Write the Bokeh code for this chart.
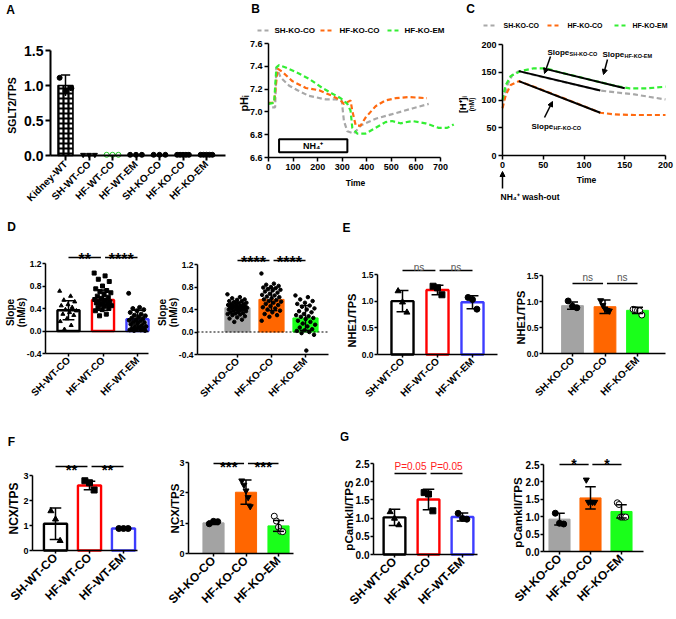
import numpy as np
from math import pi
from bokeh.plotting import figure
from bokeh.layouts import row, column
from bokeh.models import Label, FixedTicker, Arrow, NormalHead, NumeralTickFormatter
from bokeh.core.properties import value
from bokeh.embed import file_html
from bokeh.resources import INLINE

FONT = "Liberation Sans"

# ============================ DATA ============================
# Panel A
a_groups = ["Kidney-WT", "SH-WT-CO", "HF-WT-CO", "HF-WT-EM", "SH-KO-CO", "HF-KO-CO", "HF-KO-EM"]
a_means = [1.00, 0.005, 0.005, 0.005, 0.005, 0.005, 0.005]
a_sd = [0.15, 0.0, 0.0, 0.0, 0.0, 0.0, 0.0]
a_points = [[1.11, 0.92, 0.96],
            [0.01, 0.01, 0.01],
            [0.01, 0.01, 0.01],
            [0.01, 0.01, 0.01],
            [0.01, 0.01, 0.01],
            [0.01, 0.01, 0.01, 0.01, 0.01],
            [0.01, 0.01, 0.01, 0.01, 0.01]]
a_yticks = [0.0, 0.5, 1.0, 1.5]

# Panel B : pHi traces
series_names = ["SH-KO-CO", "HF-KO-CO", "HF-KO-EM"]
b_sh_t = [15, 27, 32, 50, 84, 118, 165, 233, 273, 298, 307, 321, 348, 375, 436, 503, 585, 652]
b_sh_ph = [7.04, 7.04, 7.39, 7.30, 7.23, 7.19, 7.14, 7.11, 7.11, 7.10, 6.92, 6.83, 6.81, 6.88, 6.94, 6.98, 7.03, 7.07]
b_co_t = [0, 23, 37, 57, 97, 152, 206, 260, 294, 307, 334, 341, 355, 375, 395, 436, 476, 517, 571, 645]
b_co_ph = [7.08, 7.08, 7.38, 7.35, 7.27, 7.21, 7.19, 7.14, 7.10, 7.07, 7.10, 7.01, 6.88, 6.88, 6.95, 7.05, 7.10, 7.12, 7.13, 7.12]
b_em_t = [0, 23, 32, 43, 70, 111, 165, 219, 260, 294, 321, 334, 341, 361, 395, 436, 476, 503, 537, 585, 639, 693, 727, 754]
b_em_ph = [7.07, 7.08, 7.39, 7.41, 7.39, 7.35, 7.29, 7.21, 7.16, 7.12, 7.07, 7.01, 6.86, 6.81, 6.81, 6.86, 6.91, 6.92, 6.90, 6.92, 6.90, 6.86, 6.86, 6.89]
b_xticks = [0, 100, 200, 300, 400, 500, 600, 700]
b_yticks = [6.6, 6.8, 7.0, 7.2, 7.4, 7.6]
nh4_start, nh4_end = 43, 321
nh4_low, nh4_high = 6.645, 6.76

# Panel C : [H+]i traces and slope fits
c_sh_t = [1, 6, 12, 20, 50, 82, 120, 138, 162, 200]
c_sh_h = [98, 127, 145, 152, 141, 130, 117, 114, 110, 101]
c_co_t = [0, 4, 10, 20, 42, 70, 98, 120, 138, 162, 200]
c_co_h = [85, 109, 127, 134, 122, 106, 90, 77, 74, 73, 73]
c_em_t = [0, 4, 10, 22, 38, 54, 70, 98, 120, 140, 156, 178, 200]
c_em_h = [100, 127, 143, 152, 157, 157, 150, 140, 132, 125, 121, 121, 124]
c_fit_sh_t, c_fit_sh_h = [20, 120], [152, 117]
c_fit_co_t, c_fit_co_h = [20, 120], [134, 77]
c_fit_em_t, c_fit_em_h = [50, 150], [157, 121]
c_ticks = [0, 50, 100, 150, 200]

# Groups for bar panels
wt_groups = ["SH-WT-CO", "HF-WT-CO", "HF-WT-EM"]
ko_groups = ["SH-KO-CO", "HF-KO-CO", "HF-KO-EM"]

# Panel D : slope (nM/s)
d_wt_means = [0.37, 0.55, 0.21]
d_wt_sd = [0.17, 0.18, 0.16]
d_wt_pts = [[0.71, 0.62, 0.55, 0.52, 0.47, 0.45, 0.42, 0.38, 0.36, 0.33, 0.30, 0.28, 0.22, 0.17, 0.10, 0.03],
            [1.03, 0.98, 0.92, 0.88, 0.80, 0.75, 0.72, 0.70, 0.68, 0.65, 0.62, 0.60, 0.58, 0.56, 0.55,
             0.53, 0.52, 0.50, 0.50, 0.48, 0.47, 0.45, 0.44, 0.42, 0.40, 0.38, 0.36, 0.30, 0.27],
            [0.67, 0.42, 0.40, 0.38, 0.36, 0.33, 0.30, 0.28, 0.27, 0.25, 0.23, 0.22, 0.20, 0.19, 0.18,
             0.16, 0.15, 0.14, 0.12, 0.10, 0.09, 0.08, 0.07, 0.05, 0.04, 0.03, 0.02, 0.02, 0.01, 0.01]]
d_ko_means = [0.43, 0.58, 0.25]
d_ko_sd = [0.10, 0.20, 0.22]
d_ko_pts = [[0.67, 0.62, 0.60, 0.58, 0.57, 0.55, 0.55, 0.53, 0.52, 0.51, 0.50, 0.50, 0.49, 0.48, 0.47,
             0.47, 0.46, 0.45, 0.45, 0.44, 0.44, 0.43, 0.42, 0.42, 0.41, 0.40, 0.40, 0.39, 0.38, 0.37,
             0.36, 0.35, 0.34, 0.33, 0.32, 0.31, 0.30, 0.28, 0.26, 0.24, 0.22, 0.18],
            [1.04, 0.86, 0.84, 0.82, 0.80, 0.79, 0.78, 0.76, 0.75, 0.74, 0.72, 0.70, 0.68, 0.66, 0.65,
             0.63, 0.62, 0.60, 0.58, 0.57, 0.55, 0.54, 0.52, 0.50, 0.48, 0.46, 0.44, 0.42, 0.40, 0.38,
             0.35, 0.32, 0.30, 0.27, 0.20],
            [0.65, 0.62, 0.58, 0.55, 0.52, 0.50, 0.47, 0.45, 0.42, 0.40, 0.37, 0.35, 0.32, 0.30, 0.28,
             0.27, 0.25, 0.23, 0.20, 0.18, 0.15, 0.13, 0.10, 0.08, 0.05, 0.03, 0.02, 0.00, -0.02, -0.05, -0.33]]
d_yticks = [-0.4, 0.0, 0.4, 0.8, 1.2]
d_sig_wt = ["**", "****"]
d_sig_ko = ["****", "****"]

# Panel E : NHE1/TPS
e_wt_means = [1.00, 1.21, 0.98]
e_wt_sd = [0.20, 0.09, 0.12]
e_wt_pts = [[1.19, 0.98, 0.79], [1.28, 1.25, 1.12], [1.07, 1.03, 0.85]]
e_ko_means = [0.92, 0.90, 0.83]
e_ko_sd = [0.07, 0.13, 0.06]
e_ko_pts = [[1.01, 0.91, 0.88], [1.02, 0.93, 0.86, 0.83, 0.82], [0.85, 0.84, 0.83, 0.82, 0.74]]
e_yticks = [0.0, 0.5, 1.0, 1.5]
e_sig = ["ns", "ns"]

# Panel F : NCX/TPS
f_wt_means = [1.07, 2.60, 0.88]
f_wt_sd = [0.63, 0.17, 0.02]
f_wt_pts = [[1.58, 1.25, 0.39], [2.79, 2.71, 2.42], [0.88, 0.88, 0.88]]
f_ko_means = [1.01, 2.02, 0.91]
f_ko_sd = [0.05, 0.40, 0.18]
f_ko_pts = [[0.98, 1.06, 1.05], [2.40, 2.26, 2.07, 1.85, 1.55], [1.23, 1.07, 0.87, 0.73, 0.72]]
f_yticks = [0, 1, 2, 3]
f_sig_wt = ["**", "**"]
f_sig_ko = ["***", "***"]

# Panel G : pCamkII/TPS
g_wt_means = [1.02, 1.51, 1.03]
g_wt_sd = [0.22, 0.28, 0.11]
g_wt_pts = [[1.17, 0.99, 0.81], [1.70, 1.66, 1.20], [1.13, 0.99, 0.97]]
g_ko_means = [0.93, 1.54, 1.15]
g_ko_sd = [0.17, 0.32, 0.19]
g_ko_pts = [[1.10, 0.81, 0.79], [2.06, 1.42, 1.42, 1.42, 1.42], [1.40, 1.35, 0.99, 0.99, 0.99, 0.99]]
g_yticks = [0.0, 0.5, 1.0, 1.5, 2.0, 2.5]
g_sig_wt = ["P=0.05", "P=0.05"]
g_sig_ko = ["*", "*"]

# ============================ STYLE / LAYOUT ============================
WT_COLORS = ["black", "#ff0000", "#3d3dff"]
KO_COLORS = ["#a3a3a3", "#ff6600", "#1aff1a"]
LINE_COLORS = ["#a8a8a8", "#ff6a10", "#33ee33"]

# canvas box (X, W, Y, H), x calibration (v0, px0, v1, px1), y calibration (v0, py0, v1, py1),
# axis box (left px, right px)
CAL = {
    "A": ((0, 233, 0, 215), (0, 65, 6, 206), (0.0, 155, 1.5, 50), (50, 225)),
    "B": ((233, 225, 0, 215), (0, 268, 700, 440), (6.6, 157, 7.6, 43), (268, 440)),
    "C": ((458, 218, 0, 215), (0, 502, 200, 665), (0, 155, 200, 44), (502, 665)),
    "DL": ((0, 152, 215, 205), (0, 68, 2, 137), (-0.4, 353, 1.2, 263), (45, 148)),
    "DR": ((152, 188, 215, 205), (0, 237, 2, 305), (-0.4, 354, 1.2, 264), (197, 328)),
    "EL": ((340, 170, 215, 205), (0, 402, 2, 472), (0.0, 354, 1.5, 274), (377, 497)),
    "ER": ((510, 166, 215, 205), (0, 572, 2, 637), (0.0, 353, 1.5, 275), (542, 665)),
    "FL": ((0, 160, 420, 199), (0, 55, 2, 123), (0, 550, 3, 475), (32, 137)),
    "FR": ((160, 180, 420, 199), (0, 213, 2, 278), (0, 553, 3, 462), (188, 293)),
    "GL": ((340, 170, 420, 199), (0, 394, 2, 462), (0.0, 554, 2.5, 463), (373, 477)),
    "GR": ((510, 166, 420, 199), (0, 559, 2, 621), (0.0, 551, 2.5, 464), (543, 643)),
}


def to_data(p, px, py):
    xv0, xp0, kx, yv0, yp0, ky = p._cal
    return (xv0 + (px - xp0) * kx, yv0 + (yp0 - py) * ky)


def make_fig(key, yticks):
    (X, W, Y, H), (xv0, xp0, xv1, xp1), (yv0, yp0, yv1, yp1), (axl, axr) = CAL[key]
    kx = (xv1 - xv0) / (xp1 - xp0)
    ky = (yv1 - yv0) / (yp0 - yp1)
    xr = (xv0 + (X - xp0) * kx, xv0 + (X + W - xp0) * kx)
    yr = (yv0 + (yp0 - (Y + H)) * ky, yv0 + (yp0 - Y) * ky)
    p = figure(width=W, height=H, x_range=xr, y_range=yr, output_backend="svg",
               toolbar_location=None, title=None, min_border=0,
               min_border_left=0, min_border_right=0, min_border_top=0, min_border_bottom=0)
    p._cal = (xv0, xp0, kx, yv0, yp0, ky)
    p.grid.visible = False
    p.outline_line_color = None
    p.axis.minor_tick_line_color = None
    p.axis.axis_line_width = 1.5
    p.axis.major_tick_line_width = 1.5
    p.axis.major_tick_out = 4
    p.axis.major_tick_in = 0
    p.axis.major_label_text_font = FONT
    p.axis.major_label_text_font_style = "bold"
    p.axis.major_label_standoff = 2
    p.axis.major_label_text_color = "black"
    xl = to_data(p, axl, 0)[0]
    xrt = to_data(p, axr, 0)[0]
    p.yaxis.fixed_location = xl
    p.xaxis.fixed_location = yticks[0]
    p.xaxis.bounds = (xl, xrt)
    p.yaxis.bounds = (yticks[0], yticks[-1])
    p.yaxis.ticker = FixedTicker(ticks=yticks)
    return p


def dlabel(p, px, py, text, size, bold=True, align="center", baseline="middle",
           angle=0.0, color="black"):
    x, y = to_data(p, px, py)
    p.add_layout(Label(x=x, y=y, text=text, text_font=FONT, text_font_size=f"{size}px",
                       text_font_style="bold" if bold else "normal",
                       text_align=align, text_baseline=baseline, angle=angle, text_color=color))


def dseg(p, px0, py0, px1, py1, color, width=2.0, dash="solid", head=False):
    x0, y0 = to_data(p, px0, py0)
    x1, y1 = to_data(p, px1, py1)
    if head:
        p.add_layout(Arrow(x_start=x0, y_start=y0, x_end=x1, y_end=y1, line_color=color,
                           line_width=width, start=None,
                           end=NormalHead(size=5, fill_color=color, line_color=color)))
    else:
        p.segment(x0=[x0], y0=[y0], x1=[x1], y1=[y1], line_color=color,
                  line_width=width, line_dash=dash)


def offsets(n, bw):
    if n == 1:
        return np.zeros(1)
    if n <= 6:
        return np.linspace(-0.2, 0.2, n) * bw
    return ((np.arange(n) * 0.618034) % 1.0 - 0.5) * 0.8 * bw


def cat_panel(key, yticks, yfmt, groups, means, sds, pts, st):
    p = make_fig(key, yticks)
    p.axis.major_tick_out = 3
    p.yaxis.major_label_standoff = 1
    idx = list(range(len(groups)))
    bw = st["bw"]
    if st["filled"]:
        p.vbar(x=idx, top=means, width=bw, bottom=0, fill_color=st["colors"],
               line_color=st["colors"], line_width=1)
    else:
        p.vbar(x=idx, top=means, width=bw, bottom=0, fill_color="white",
               line_color=st["colors"], line_width=2.4)
    for i, vals in enumerate(pts):
        xs = i + offsets(len(vals), bw)
        p.scatter(x=xs, y=vals, marker=st["markers"][i], size=st["msize"],
                  fill_color=st["mfill"][i], line_color="black", line_width=1)
    lo = [m - s for m, s in zip(means, sds)]
    hi = [m + s for m, s in zip(means, sds)]
    c = st["cap"]
    p.segment(x0=idx, y0=lo, x1=idx, y1=hi, line_color="black", line_width=1.5)
    p.segment(x0=[i - c for i in idx], x1=[i + c for i in idx], y0=hi, y1=hi,
              line_color="black", line_width=1.5)
    p.segment(x0=[i - c for i in idx], x1=[i + c for i in idx], y0=lo, y1=lo,
              line_color="black", line_width=1.5)
    # significance brackets (line level / text baseline given in page px)
    _, sy = to_data(p, 0, st["sig_py"])
    _, ty = to_data(p, 0, st["sig_tpy"])
    p.segment(x0=[0.0, 1.06], x1=[0.94, 2.0], y0=[sy, sy], y1=[sy, sy],
              line_color="black", line_width=1.5)
    p.text(x=[0.47, 1.53], y=[ty, ty], text=st["sig"], text_align="center",
           text_baseline="alphabetic", text_font=value(FONT),
           text_font_size=f"{st['sig_fs']}px",
           text_font_style="bold" if st["sig_bold"] else "normal",
           text_color=st["sig_color"])
    p.yaxis.formatter = NumeralTickFormatter(format=yfmt)
    p.yaxis.major_label_text_font_size = f"{st['tick_fs']}px"
    p.xaxis.ticker = FixedTicker(ticks=idx)
    p.xaxis.major_label_overrides = {i: name for i, name in enumerate(groups)}
    p.xaxis.major_label_orientation = pi / 4
    p.xaxis.major_label_text_font_size = f"{st['xlab_fs']}px"
    return p


# ============================ PANEL A ============================
pa = make_fig("A", a_yticks)
a_idx = list(range(len(a_groups)))
pa.vbar(x=a_idx[:1], top=a_means[:1], width=0.64, bottom=0, fill_color="white",
        line_color="black", line_width=1.5, hatch_pattern="+", hatch_color="black",
        hatch_scale=5, hatch_weight=2.2)
pa.vbar(x=a_idx[1:], top=a_means[1:], width=0.64, bottom=0, fill_color="white",
        line_color="black", line_width=1.5)
a_markers = ["circle", "inverted_triangle", "circle", "circle", "circle", "circle", "circle"]
a_fill = ["black", "black", "white", "black", "black", "black", "black"]
a_line = ["black", "black", "#22cc22", "black", "black", "black", "black"]
for i, vals in enumerate(a_points):
    xs = i + np.linspace(-0.25, 0.25, len(vals))
    pa.scatter(x=xs, y=vals, marker=a_markers[i], size=5, fill_color=a_fill[i],
               line_color=a_line[i], line_width=1)
pa.segment(x0=[0], x1=[0], y0=[a_means[0] - a_sd[0]], y1=[a_means[0] + a_sd[0]],
           line_color="black", line_width=1.5)
pa.segment(x0=[-0.2], x1=[0.2], y0=[a_means[0] + a_sd[0]], y1=[a_means[0] + a_sd[0]],
           line_color="black", line_width=1.5)
pa.axis.axis_line_width = 2
pa.axis.major_tick_line_width = 2
pa.axis.major_tick_out = 5
pa.yaxis.formatter = NumeralTickFormatter(format="0.0")
pa.yaxis.major_label_text_font_size = "14px"
pa.xaxis.ticker = FixedTicker(ticks=a_idx)
pa.xaxis.major_label_overrides = {i: n for i, n in enumerate(a_groups)}
pa.xaxis.major_label_orientation = pi / 4
pa.xaxis.major_label_text_font_size = "10px"
dlabel(pa, 10, 9, "A", 12)
dlabel(pa, 11, 105, "SGLT2/TPS", 10.5, angle=pi / 2)

# ============================ PANEL B ============================
pb = make_fig("B", b_yticks)
pb.quad(left=[nh4_start], right=[nh4_end], bottom=[nh4_low], top=[nh4_high],
        fill_color="white", line_color="black", line_width=2)
pb.text(x=[(nh4_start + nh4_end) / 2], y=[(nh4_low + nh4_high) / 2], text=["NH₄⁺"],
        text_align="center", text_baseline="middle", text_font=value(FONT),
        text_font_size="9px", text_font_style="bold")
for (t, v), col in zip([(b_sh_t, b_sh_ph), (b_co_t, b_co_ph), (b_em_t, b_em_ph)], LINE_COLORS):
    pb.line(t, v, line_color=col, line_width=2.2, line_dash="5 3")
pb.xaxis.ticker = FixedTicker(ticks=b_xticks)
pb.yaxis.formatter = NumeralTickFormatter(format="0.0")
pb.axis.major_label_text_font_size = "9px"
for (x0, tx), name, col in zip([(257, 274), (320, 339), (387, 404)], series_names, LINE_COLORS):
    dseg(pb, x0, 30, x0 + 12, 30, col, width=2.2, dash="4 3")
    dlabel(pb, tx, 30, name, 8, align="left")
dlabel(pb, 255, 8, "B", 12)
dlabel(pb, 243, 103, "pHᵢ", 11, angle=pi / 2)
dlabel(pb, 355, 182, "Time", 8.5)

# ============================ PANEL C ============================
pc = make_fig("C", c_ticks)
for (t, v), col in zip([(c_sh_t, c_sh_h), (c_co_t, c_co_h), (c_em_t, c_em_h)], LINE_COLORS):
    pc.line(t, v, line_color=col, line_width=2.2, line_dash="5 3")
for t, v in [(c_fit_sh_t, c_fit_sh_h), (c_fit_co_t, c_fit_co_h), (c_fit_em_t, c_fit_em_h)]:
    pc.line(t, v, line_color="black", line_width=2)
pc.xaxis.ticker = FixedTicker(ticks=c_ticks)
pc.axis.major_label_text_font_size = "9px"
for (x0, tx), name, col in zip([(483, 503), (547, 567), (614, 632)], series_names, LINE_COLORS):
    dseg(pc, x0, 25, x0 + 12, 25, col, width=2.2, dash="4 3")
    dlabel(pc, tx, 25, name, 7, align="left")
for (px, py, sub) in [(547, 52, "SH-KO-CO"), (602, 54, "HF-KO-EM"), (531, 126, "HF-KO-CO")]:
    dlabel(pc, px, py, "Slope", 8, align="left", baseline="alphabetic")
    dlabel(pc, px + 22, py + 1, sub, 5.5, align="left", baseline="middle")
for (x0, y0, x1, y1) in [(550, 56, 544, 73), (607, 59, 603, 74), (544, 117, 552, 101)]:
    dseg(pc, x0, y0, x1, y1, "black", width=1.5, head=True)
dseg(pc, 502, 188, 502, 171, "black", width=1.5, head=True)
dlabel(pc, 500, 196, "NH₄⁺ wash-out", 8.5, align="left")
dlabel(pc, 470, 8, "C", 12)
dlabel(pc, 462, 104, "[H⁺]ᵢ", 9, angle=pi / 2)
dlabel(pc, 471, 104, "(nM)", 6.5, angle=pi / 2)
dlabel(pc, 586, 179, "Time", 8.5)

# ============================ PANELS D-G ============================
st_dl = dict(bw=0.64, filled=False, colors=WT_COLORS, markers=["triangle", "square", "circle"],
             mfill=["black"] * 3, msize=4, cap=0.17, sig_py=257, sig_tpy=259, sig=d_sig_wt,
             sig_fs=16, sig_bold=True, sig_color="black", tick_fs=8.5, xlab_fs=10)
pdl = cat_panel("DL", d_yticks, "0.0", wt_groups, d_wt_means, d_wt_sd, d_wt_pts, st_dl)
dseg(pdl, 45, 331, 148, 331, "black", width=1.5)
dlabel(pdl, 11, 226, "D", 12)
dlabel(pdl, 10, 312, "Slope", 10, angle=pi / 2)
dlabel(pdl, 21, 312, "(nM/s)", 10, angle=pi / 2)

st_dr = dict(bw=0.74, filled=True, colors=KO_COLORS, markers=["circle", "circle", "circle"],
             mfill=["black"] * 3, msize=3.5, cap=0.17, sig_py=260, sig_tpy=262, sig=d_sig_ko,
             sig_fs=16, sig_bold=True, sig_color="black", tick_fs=8.5, xlab_fs=10)
pdr = cat_panel("DR", d_yticks, "0.0", ko_groups, d_ko_means, d_ko_sd, d_ko_pts, st_dr)
dseg(pdr, 197, 331.5, 328, 331.5, "black", width=1.2, dash="2 2")
dlabel(pdr, 162, 312, "Slope", 10, angle=pi / 2)
dlabel(pdr, 173, 312, "(nM/s)", 10, angle=pi / 2)

st_el = dict(bw=0.63, filled=False, colors=WT_COLORS, markers=["triangle", "square", "circle"],
             mfill=["black"] * 3, msize=6, cap=0.17, sig_py=270, sig_tpy=266.5, sig=e_sig,
             sig_fs=10, sig_bold=False, sig_color="#555555", tick_fs=8.5, xlab_fs=10)
pel = cat_panel("EL", e_yticks, "0.0", wt_groups, e_wt_means, e_wt_sd, e_wt_pts, st_el)
dlabel(pel, 346, 227, "E", 12)
dlabel(pel, 351, 320, "NHE1/TPS", 11, angle=pi / 2)

st_er = dict(bw=0.67, filled=True, colors=KO_COLORS,
             markers=["circle", "inverted_triangle", "circle"],
             mfill=["black", "black", "white"], msize=6, cap=0.17, sig_py=283, sig_tpy=276.5,
             sig=e_sig, sig_fs=10, sig_bold=False, sig_color="#555555", tick_fs=8.5, xlab_fs=10)
per = cat_panel("ER", e_yticks, "0.0", ko_groups, e_ko_means, e_ko_sd, e_ko_pts, st_er)
dlabel(per, 520, 317, "NHE1/TPS", 11, angle=pi / 2)

st_fl = dict(bw=0.68, filled=False, colors=WT_COLORS, markers=["triangle", "square", "circle"],
             mfill=["black"] * 3, msize=6, cap=0.17, sig_py=466, sig_tpy=468.5, sig=f_sig_wt,
             sig_fs=15, sig_bold=True, sig_color="black", tick_fs=9, xlab_fs=12)
pfl = cat_panel("FL", f_yticks, "0", wt_groups, f_wt_means, f_wt_sd, f_wt_pts, st_fl)
dlabel(pfl, 11, 441, "F", 12)
dlabel(pfl, 13, 508, "NCX/TPS", 12, angle=pi / 2)

st_fr = dict(bw=0.65, filled=True, colors=KO_COLORS,
             markers=["circle", "inverted_triangle", "circle"],
             mfill=["black", "black", "white"], msize=6, cap=0.17, sig_py=463, sig_tpy=465.5,
             sig=f_sig_ko, sig_fs=15, sig_bold=True, sig_color="black", tick_fs=9, xlab_fs=12)
pfr = cat_panel("FR", f_yticks, "0", ko_groups, f_ko_means, f_ko_sd, f_ko_pts, st_fr)
dlabel(pfr, 174, 508, "NCX/TPS", 11.5, angle=pi / 2)

st_gl = dict(bw=0.64, filled=False, colors=WT_COLORS, markers=["triangle", "square", "circle"],
             mfill=["black"] * 3, msize=6, cap=0.17, sig_py=473, sig_tpy=465.5, sig=g_sig_wt,
             sig_fs=10, sig_bold=False, sig_color="#ff2020", tick_fs=10, xlab_fs=12)
pgl = cat_panel("GL", g_yticks, "0.0", wt_groups, g_wt_means, g_wt_sd, g_wt_pts, st_gl)
dlabel(pgl, 344, 436, "G", 12)
dlabel(pgl, 348, 515, "pCamkII/TPS", 11.5, angle=pi / 2)

st_gr = dict(bw=0.68, filled=True, colors=KO_COLORS,
             markers=["circle", "inverted_triangle", "circle"],
             mfill=["black", "black", "white"], msize=6, cap=0.17, sig_py=464, sig_tpy=463,
             sig=g_sig_ko, sig_fs=14, sig_bold=True, sig_color="black", tick_fs=10, xlab_fs=12)
pgr = cat_panel("GR", g_yticks, "0.0", ko_groups, g_ko_means, g_ko_sd, g_ko_pts, st_gr)
dlabel(pgr, 517, 512, "pCamkII/TPS", 11.5, angle=pi / 2)

layout = column(row(pa, pb, pc), row(pdl, pdr, pel, per), row(pfl, pfr, pgl, pgr))
open("out.html", "w").write(file_html(layout, INLINE))
